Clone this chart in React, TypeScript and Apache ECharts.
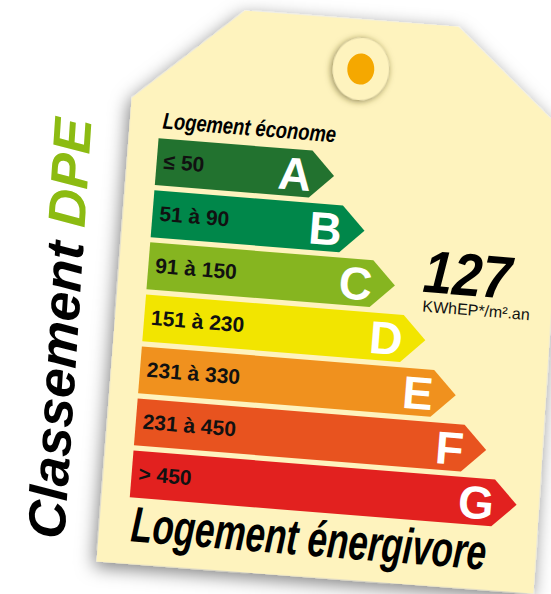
import React, { useEffect, useRef } from 'react';
import * as echarts from 'echarts';

// ---- data ----
const CLASSES = ['A', 'B', 'C', 'D', 'E', 'F', 'G'];
const RANGES = ['≤ 50', '51 à 90', '91 à 150', '151 à 230', '231 à 330', '231 à 450', '> 450'];
const BAR_RANK = [1, 2, 3, 4, 5, 6, 7];
const COLORS = ['#22722F', '#00874A', '#86B520', '#F2E500', '#F0911E', '#E8531F', '#E2211F'];
const VALUE_TEXT = '127';
const UNIT_TEXT = 'KWhEP*/m².an';
const TITLE_TOP = 'Logement économe';
const TITLE_BOTTOM = 'Logement énergivore';
const SIDE_A = 'Classement';
const SIDE_B = 'DPE';

// ---- layout ----
const ROT = (-4.6 * Math.PI) / 180;
const PIVOT = [300, 300];
const X_MIN = -3.45;
const X_MAX = 8;
const PX_PER_UNIT = 34.7;
const CREAM = '#FEF3BE';
const FONT = '"Liberation Sans", Arial, sans-serif';
const TAG = [
  [116, 112],
  [222, 16],
  [436, 15],
  [548, 110],
  [556, 574],
  [118, 577],
];

export default function App() {
  const ref = useRef<HTMLDivElement>(null);
  useEffect(() => {
    if (!ref.current) return;
    const chart = echarts.init(ref.current, undefined, { renderer: 'svg' });
    const rot = { rotation: ROT, originX: PIVOT[0], originY: PIVOT[1] };
    chart.setOption({
      animation: false,
      backgroundColor: '#ffffff',
      grid: {
        left: 146,
        top: 147.5,
        width: (X_MAX - X_MIN) * PX_PER_UNIT,
        height: 365.4,
        containLabel: false,
      },
      xAxis: { type: 'value', min: X_MIN, max: X_MAX, show: false },
      yAxis: { type: 'category', data: CLASSES, inverse: true, show: false },
      graphic: [
        {
          type: 'polygon',
          z: 0,
          ...rot,
          shape: { points: TAG },
          style: {
            fill: CREAM,
            shadowBlur: 18,
            shadowOffsetX: -2,
            shadowOffsetY: 5,
            shadowColor: 'rgba(0,0,0,0.5)',
          },
        },
        {
          type: 'ellipse',
          z: 1,
          ...rot,
          shape: { cx: 342, cy: 65, rx: 28, ry: 31 },
          style: {
            fill: CREAM,
            shadowBlur: 7,
            shadowOffsetX: -1,
            shadowOffsetY: 1,
            shadowColor: 'rgba(90,80,30,0.75)',
          },
        },
        {
          type: 'ellipse',
          z: 1,
          ...rot,
          shape: { cx: 342, cy: 65, rx: 13.5, ry: 15.5 },
          style: { fill: '#F5A800' },
        },
        {
          type: 'group',
          z: 10,
          ...rot,
          children: [
            {
              type: 'text',
              z: 10,
              x: 149,
              y: 131.7,
              scaleX: 0.8,
              style: {
                text: TITLE_TOP,
                font: `italic bold 23px ${FONT}`,
                fill: '#000',
                align: 'left',
                verticalAlign: 'middle',
              },
            },
            {
              type: 'text',
              z: 10,
              x: 150,
              y: 536.7,
              scaleX: 0.7,
              style: {
                text: TITLE_BOTTOM,
                font: `italic bold 50px ${FONT}`,
                fill: '#000',
                align: 'left',
                verticalAlign: 'middle',
              },
            },
            {
              type: 'text',
              z: 10,
              x: 421,
              y: 261.4,
              scaleX: 0.88,
              style: {
                text: VALUE_TEXT,
                font: `italic bold 60px ${FONT}`,
                fill: '#000',
                align: 'left',
                verticalAlign: 'middle',
              },
            },
            {
              type: 'text',
              z: 10,
              x: 422.6,
              y: 296.2,
              style: {
                text: UNIT_TEXT,
                font: `16px ${FONT}`,
                fill: '#111',
                align: 'left',
                verticalAlign: 'middle',
              },
            },
          ],
        },
        {
          type: 'text',
          z: 10,
          x: 59.5,
          y: 328.5,
          rotation: (86.3 * Math.PI) / 180,
          style: {
            text: `{a|${SIDE_A}} {b|${SIDE_B}}`,
            font: `italic bold 53px ${FONT}`,
            fill: '#000',
            align: 'center',
            verticalAlign: 'middle',
            rich: {
              a: { fill: '#000', fontSize: 53, fontWeight: 'bold', fontStyle: 'italic', fontFamily: FONT },
              b: { fill: '#8CBB12', fontSize: 53, fontWeight: 'bold', fontStyle: 'italic', fontFamily: FONT },
            },
          },
        },
      ],
      series: [
        {
          type: 'custom',
          z: 2,
          data: CLASSES.map((c, i) => [i, BAR_RANK[i]]),
          renderItem: (params: any, api: any) => {
            const idx = api.value(0);
            const val = api.value(1);
            const left = api.coord([X_MIN, idx]);
            const right = api.coord([val, idx]);
            const h = api.size([0, 1])[1] * 0.9;
            const cy = left[1];
            const x0 = left[0];
            const x1 = right[0];
            const tip = h / 2;
            return {
              type: 'group',
              ...rot,
              children: [
                {
                  type: 'polygon',
                  shape: {
                    points: [
                      [x0, cy - h / 2],
                      [x1, cy - h / 2],
                      [x1 + tip, cy],
                      [x1, cy + h / 2],
                      [x0, cy + h / 2],
                    ],
                  },
                  style: { fill: COLORS[idx] },
                },
                {
                  type: 'text',
                  x: x0 + 7,
                  y: cy - 1,
                  style: {
                    text: RANGES[idx],
                    font: `bold 21px ${FONT}`,
                    fill: '#111',
                    align: 'left',
                    verticalAlign: 'middle',
                  },
                },
                {
                  type: 'text',
                  x: x1 + 1,
                  y: cy + 1,
                  style: {
                    text: CLASSES[idx],
                    font: `bold 46px ${FONT}`,
                    fill: '#ffffff',
                    align: 'right',
                    verticalAlign: 'middle',
                  },
                },
              ],
            };
          },
        },
      ],
    });
    return () => chart.dispose();
  }, []);
  return (
    <div
      ref={ref}
      style={{ position: 'fixed', left: 0, top: 0, width: 551, height: 594 }}
    />
  );
}
